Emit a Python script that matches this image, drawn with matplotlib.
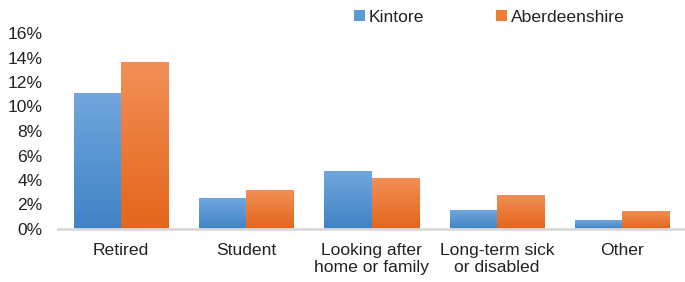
import numpy as np
import matplotlib
matplotlib.use("Agg")
import matplotlib.pyplot as plt
from matplotlib.colors import LinearSegmentedColormap
from matplotlib.ticker import FuncFormatter

categories = ["Retired", "Student", "Looking after\nhome or family",
              "Long-term sick\nor disabled", "Other"]
series_names = ["Kintore", "Aberdeenshire"]
kintore = [11.1, 2.5, 4.7, 1.55, 0.7]
aberdeenshire = [13.6, 3.2, 4.2, 2.8, 1.5]
yticks = [0, 2, 4, 6, 8, 10, 12, 14, 16]

plt.rcParams['font.family'] = ['Liberation Sans', 'DejaVu Sans']

W, H = 685, 282
fig = plt.figure(figsize=(W / 100, H / 100), dpi=100)
ax = fig.add_axes([58 / W, 1 - 229 / H, (685 - 58) / W, (229 - 33) / H])

grads = {
    "Kintore": LinearSegmentedColormap.from_list("b", ["#3f83c6", "#71a7dd"]),
    "Aberdeenshire": LinearSegmentedColormap.from_list("o", ["#e4661a", "#f28f57"]),
}
solid = {"Kintore": "#5b9bd5", "Aberdeenshire": "#ed7d31"}

x = np.arange(len(categories))
width = 0.375
grad = np.linspace(0, 1, 256).reshape(-1, 1)
for i, (name, vals) in enumerate(zip(series_names, [kintore, aberdeenshire])):
    offs = (i - 0.5) * width
    bars = ax.bar(x + offs, vals, width, color=solid[name], label=name, linewidth=0)
    for b in bars:
        bx, by = b.get_x(), b.get_y()
        bw, bh = b.get_width(), b.get_height()
        im = ax.imshow(grad, cmap=grads[name], origin="lower", aspect="auto",
                       extent=[bx, bx + bw, by, by + bh], zorder=2)
        im.set_clip_path(b)

ax.set_xlim(-0.5, len(categories) - 0.5)
ax.set_ylim(0, 16)
ax.set_yticks(yticks)
ax.yaxis.set_major_formatter(FuncFormatter(lambda v, p: f"{v:.0f}%"))
ax.set_xticks(x)
ax.set_xticklabels(categories, linespacing=1.18)
ax.tick_params(axis="both", length=0, labelsize=12.6, colors="#222222")
ax.tick_params(axis="x", pad=10)
ax.tick_params(axis="y", pad=11)
for s in ["top", "right", "left"]:
    ax.spines[s].set_visible(False)
ax.spines["bottom"].set_color("#d9d9d9")
ax.spines["bottom"].set_linewidth(2)
ax.spines["bottom"].set_zorder(5)

leg = fig.legend(loc="center left", bbox_to_anchor=(354 / W, 1 - 17 / H), ncol=2,
                 frameon=False, fontsize=12.6, handlelength=0.6, handleheight=0.6,
                 handletextpad=0.25, columnspacing=4.1, borderaxespad=0, borderpad=0)
for t in leg.get_texts():
    t.set_color("#222222")

fig.savefig("out.png", dpi=100)
